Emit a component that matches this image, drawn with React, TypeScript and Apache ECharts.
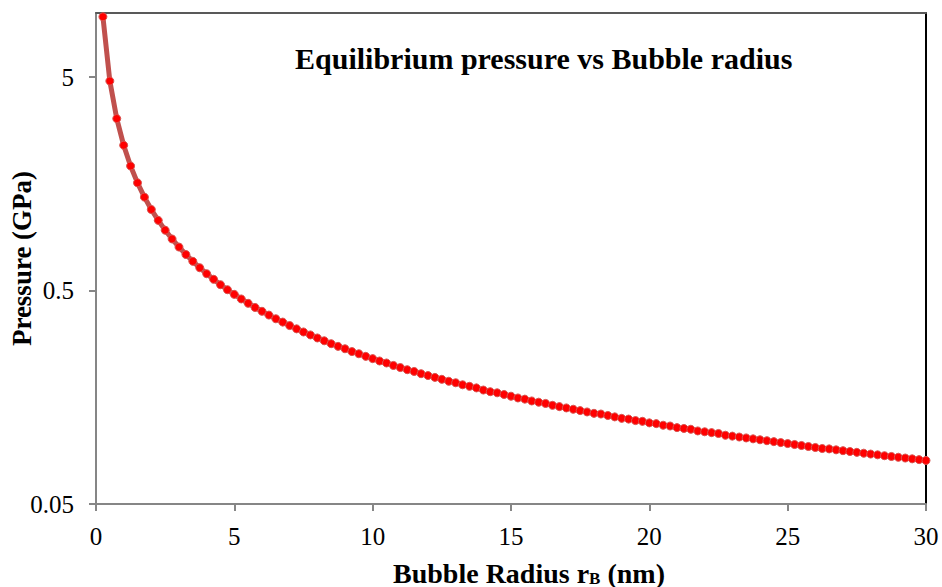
import React, { useEffect, useRef } from "react";
import * as echarts from "echarts";

const radiusNm: number[] = [
  0.25, 0.5, 0.75, 1, 1.25, 1.5, 1.75, 2, 2.25, 2.5, 2.75, 3, 3.25, 3.5, 3.75, 4, 4.25, 4.5, 4.75, 5,
  5.25, 5.5, 5.75, 6, 6.25, 6.5, 6.75, 7, 7.25, 7.5, 7.75, 8, 8.25, 8.5, 8.75, 9, 9.25, 9.5, 9.75, 10,
  10.25, 10.5, 10.75, 11, 11.25, 11.5, 11.75, 12, 12.25, 12.5, 12.75, 13, 13.25, 13.5, 13.75, 14, 14.25, 14.5, 14.75, 15,
  15.25, 15.5, 15.75, 16, 16.25, 16.5, 16.75, 17, 17.25, 17.5, 17.75, 18, 18.25, 18.5, 18.75, 19, 19.25, 19.5, 19.75, 20,
  20.25, 20.5, 20.75, 21, 21.25, 21.5, 21.75, 22, 22.25, 22.5, 22.75, 23, 23.25, 23.5, 23.75, 24, 24.25, 24.5, 24.75, 25,
  25.25, 25.5, 25.75, 26, 26.25, 26.5, 26.75, 27, 27.25, 27.5, 27.75, 28, 28.25, 28.5, 28.75, 29, 29.25, 29.5, 29.75, 30,
];

const pressureGPa: number[] = [
  9.6, 4.8, 3.2, 2.4, 1.92, 1.6, 1.371, 1.2, 1.067, 0.96, 0.873, 0.8, 0.738, 0.686, 0.64, 0.6, 0.565, 0.533, 0.505, 0.48,
  0.457, 0.436, 0.417, 0.4, 0.384, 0.369, 0.356, 0.343, 0.331, 0.32, 0.31, 0.3, 0.291, 0.282, 0.274, 0.267, 0.259, 0.253, 0.246, 0.24,
  0.234, 0.229, 0.223, 0.218, 0.213, 0.209, 0.204, 0.2, 0.196, 0.192, 0.188, 0.185, 0.181, 0.178, 0.175, 0.171, 0.168, 0.166, 0.163, 0.16,
  0.157, 0.155, 0.152, 0.15, 0.148, 0.145, 0.143, 0.141, 0.139, 0.137, 0.135, 0.133, 0.132, 0.13, 0.128, 0.126, 0.125, 0.123, 0.122, 0.12,
  0.119, 0.117, 0.116, 0.114, 0.113, 0.112, 0.11, 0.109, 0.108, 0.107, 0.105, 0.104, 0.103, 0.102, 0.101, 0.1, 0.099, 0.098, 0.097, 0.096,
  0.095, 0.094, 0.093, 0.092, 0.091, 0.0906, 0.0897, 0.0889, 0.0881, 0.0873, 0.0865, 0.0857, 0.085, 0.0842, 0.0835, 0.0828, 0.0821, 0.0814, 0.0807, 0.08,
];

const yTickValues: number[] = [0.05, 0.5, 5];
const xTicks = { min: 0, max: 30, interval: 5 };
const yRange = { min: 0.05, max: 10 };

const titleText = "Equilibrium pressure vs Bubble radius";
const yTitle = "Pressure (GPa)";

const FONT = "Liberation Serif, serif";

export default function App() {
  const ref = useRef<HTMLDivElement>(null);

  useEffect(() => {
    if (!ref.current) return;
    const chart = echarts.init(ref.current, undefined, { renderer: "svg" });
    const data = radiusNm.map((r, i) => [r, pressureGPa[i]]);
    chart.setOption({
      animation: false,
      backgroundColor: "#ffffff",
      textStyle: { fontFamily: FONT },
      title: {
        text: titleText,
        left: 290,
        top: 38,
        textStyle: { fontFamily: FONT, fontWeight: "bold", fontSize: 30, color: "#000" },
      },
      grid: { left: 96, top: 13, right: 16, bottom: 83, containLabel: false, outerBoundsMode: "none" },
      xAxis: [
        {
          type: "value",
          min: xTicks.min,
          max: xTicks.max,
          interval: xTicks.interval,
          position: "bottom",
          axisLine: { show: true, onZero: false, lineStyle: { color: "#868686", width: 2 } },
          axisTick: { show: true, inside: false, length: 7, lineStyle: { color: "#868686", width: 2 } },
          splitLine: { show: false },
          axisLabel: { fontFamily: FONT, fontSize: 25, color: "#000", margin: 20 },
          name: "Bubble Radius r{sub|B} (nm)",
          nameLocation: "middle",
          nameGap: 55,
          nameMoveOverlap: false,
          nameTextStyle: {
            fontFamily: FONT,
            fontSize: 28,
            fontWeight: "bold",
            color: "#000",
            padding: [0, 0, 0, 36],
            rich: {
              sub: { fontFamily: FONT, fontSize: 17, fontWeight: "bold", color: "#000", verticalAlign: "bottom", padding: [10, 0, 0, 0] },
            },
          },
        },
        {
          type: "value",
          min: xTicks.min,
          max: xTicks.max,
          position: "top",
          axisLine: { show: true, onZero: false, lineStyle: { color: "#595959", width: 2 } },
          axisTick: { show: false },
          axisLabel: { show: false },
          splitLine: { show: false },
        },
      ],
      yAxis: [
        {
          type: "log",
          logBase: 10,
          min: yRange.min,
          max: yRange.max,
          position: "left",
          axisLine: { show: true, onZero: false, lineStyle: { color: "#868686", width: 2 } },
          axisTick: { show: true, inside: false, length: 7, customValues: yTickValues, lineStyle: { color: "#868686", width: 2 } },
          splitLine: { show: false },
          minorSplitLine: { show: false },
          axisLabel: {
            fontFamily: FONT,
            fontSize: 25,
            color: "#000",
            margin: 22,
            customValues: yTickValues,
            formatter: (v: number) => String(v),
          },
          name: yTitle,
          nameLocation: "middle",
          nameGap: 61,
          nameMoveOverlap: false,
          nameRotate: 90,
          nameTextStyle: { fontFamily: FONT, fontSize: 27, fontWeight: "bold", color: "#000" },
        },
        {
          type: "log",
          logBase: 10,
          min: yRange.min,
          max: yRange.max,
          position: "right",
          axisLine: { show: true, onZero: false, lineStyle: { color: "#000", width: 2 } },
          axisTick: { show: false },
          axisLabel: { show: false },
          splitLine: { show: false },
        },
      ],
      series: [
        {
          type: "line",
          xAxisIndex: 0,
          yAxisIndex: 0,
          data,
          symbol: "circle",
          symbolSize: 8,
          showSymbol: true,
          showAllSymbol: true,
          lineStyle: { color: "#c0504d", width: 5 },
          itemStyle: { color: "#ff0000", borderColor: "#d9534f", borderWidth: 1 },
          clip: false,
        },
      ],
    });
    return () => chart.dispose();
  }, []);

  return (
    <div
      ref={ref}
      style={{ position: "fixed", left: 0, top: 0, width: 942, height: 587 }}
    />
  );
}
